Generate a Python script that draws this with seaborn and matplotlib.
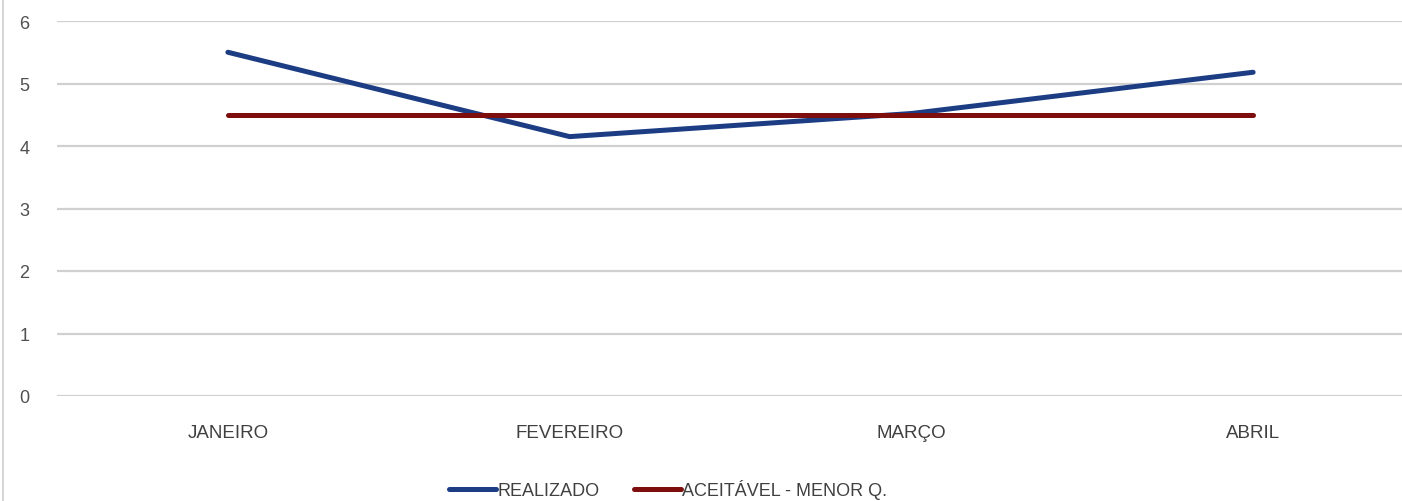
import matplotlib
matplotlib.use("Agg")
import matplotlib.pyplot as plt
import pandas as pd
import seaborn as sns
from matplotlib.lines import Line2D

MONTHS = ["JANEIRO", "FEVEREIRO", "MARÇO", "ABRIL"]
REALIZADO = [5.5, 4.15, 4.52, 5.18]
ACEITAVEL = [4.5, 4.5, 4.5, 4.5]
SERIES_NAMES = ["REALIZADO", "ACEITÁVEL - MENOR Q."]
Y_TICKS = [0, 1, 2, 3, 4, 5, 6]

COLORS = {"REALIZADO": "#1C3D84", "ACEITÁVEL - MENOR Q.": "#7E0E0E"}

sns.set_theme(style="white")
plt.rcParams["font.family"] = ["Liberation Sans Narrow", "Liberation Sans", "DejaVu Sans"]

df = pd.DataFrame({
    "month": MONTHS * 2,
    "value": REALIZADO + ACEITAVEL,
    "series": [SERIES_NAMES[0]] * len(MONTHS) + [SERIES_NAMES[1]] * len(MONTHS),
})

fig = plt.figure(figsize=(14.02, 5.02), dpi=100)
ax = fig.add_axes([57 / 1402, 105 / 502, 1367 / 1402, 375 / 502])

sns.lineplot(data=df, x="month", y="value", hue="series", palette=COLORS,
             linewidth=3.6, ax=ax, legend=False, sort=False)
for line in ax.lines:
    line.set_solid_capstyle("round")

ax.set_xlim(-0.5, 3.5)
ax.set_ylim(0, 6)
ax.set_yticks(Y_TICKS)
ax.set_yticklabels([str(t) for t in Y_TICKS])
ax.set_xticks(range(len(MONTHS)))
ax.set_xticklabels(MONTHS)
ax.set_xlabel("")
ax.set_ylabel("")
ax.grid(axis="y", color="#D0D0D0", linewidth=1.6)
ax.set_axisbelow(True)
for spine in ax.spines.values():
    spine.set_visible(False)
ax.tick_params(axis="y", length=0, pad=20, labelsize=13, labelcolor="#505050")
ax.tick_params(axis="x", length=0, pad=20, labelsize=13.5, labelcolor="#404040")

# chart frame on the left side
fig.add_artist(Line2D([3 / 1402, 3 / 1402], [0, 1], color="#D0D0D0", linewidth=1.2))

handles = [Line2D([], [], color=COLORS[name], linewidth=3.6, solid_capstyle="round") for name in SERIES_NAMES]
fig.legend(handles, SERIES_NAMES, loc="center", bbox_to_anchor=(668 / 1402, 1 - 490 / 502),
           ncol=2, frameon=False, handlelength=2.6, handletextpad=0.05, columnspacing=1.9,
           prop={"size": 13}, labelcolor="#404040")

plt.savefig("out.png", dpi=100)
plt.close()
